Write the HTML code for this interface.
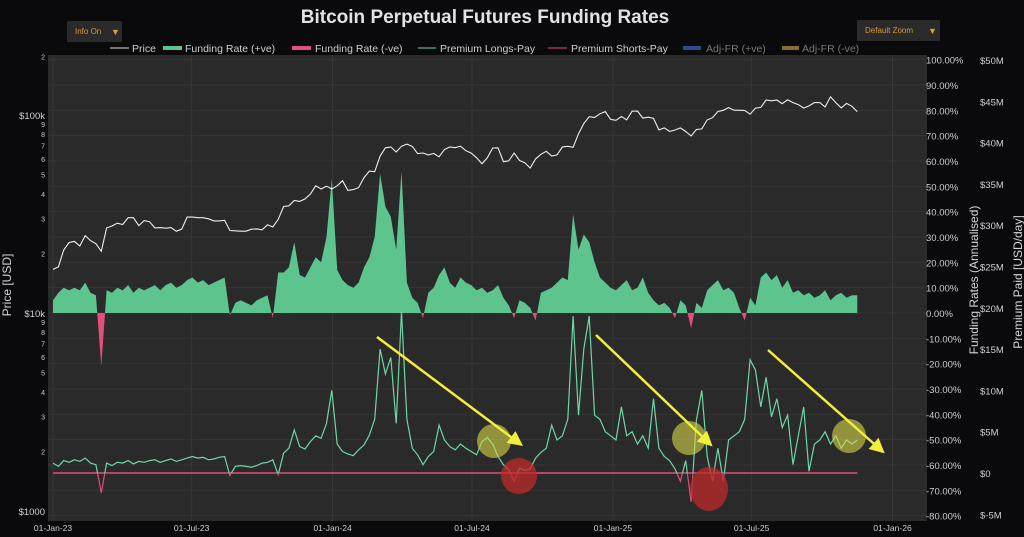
<!DOCTYPE html>
<html><head><meta charset="utf-8">
<style>
html,body{margin:0;padding:0;background:#0a0a0c;width:1024px;height:537px;overflow:hidden}
svg{display:block;font-family:"Liberation Sans",sans-serif}
</style></head>
<body>
<svg id="chart" width="1024" height="537" viewBox="0 0 1024 537">
<rect x="0" y="0" width="1024" height="537" fill="#0a0a0c"/>
<text x="485" y="23" text-anchor="middle" font-size="19" font-weight="bold" fill="#e2e2e2">Bitcoin Perpetual Futures Funding Rates</text>
<g>
<rect x="67" y="21" width="55" height="21" fill="#2a2a2a" rx="1"/>
<text x="75" y="34" font-size="8" fill="#d49a3a">Info On</text>
<text x="111" y="35" font-size="9" fill="#e0a030">▼</text>
</g>
<g>
<rect x="857" y="20" width="83" height="21" fill="#2a2a2a" rx="1"/>
<text x="865" y="33" font-size="8" fill="#d49a3a">Default Zoom</text>
<text x="928" y="34" font-size="9" fill="#e0a030">▼</text>
</g>
<g id="legend" font-size="10.5" fill="#cfcfcf">
<g><line x1="110" y1="48" x2="129" y2="48" stroke="#ddd" stroke-width="1"/><text x="132" y="52">Price</text></g>
<g><rect x="163" y="46" width="19" height="4" fill="#5ec48e"/><text x="185" y="52">Funding Rate (+ve)</text></g>
<g><rect x="292" y="46" width="19" height="4" fill="#e0507a"/><text x="315" y="52">Funding Rate (-ve)</text></g>
<g><line x1="418" y1="48" x2="436" y2="48" stroke="#6fd6a5" stroke-width="1"/><text x="440" y="52">Premium Longs-Pay</text></g>
<g><line x1="548" y1="48" x2="567" y2="48" stroke="#e0507a" stroke-width="1"/><text x="571" y="52">Premium Shorts-Pay</text></g>
<g><rect x="683" y="46" width="18" height="4" fill="#2f4a8a"/><text x="706" y="52" fill="#777">Adj-FR (+ve)</text></g>
<g><rect x="782" y="46" width="17" height="4" fill="#8a6a3a"/><text x="802" y="52" fill="#777">Adj-FR (-ve)</text></g>
</g>
<rect x="48" y="55" width="879" height="466" fill="#2a2a2b"/>
<g id="grid"></g>
<g id="marks"></g>
<g id="axes"></g>
<g>
<defs><marker id="ah" markerWidth="6" markerHeight="6" refX="4" refY="3" orient="auto"><path d="M0,0 L6,3 L0,6 z" fill="#f2ef3a"/></marker></defs>
<circle cx="494" cy="441" r="17" fill="#d8d84a" fill-opacity="0.6"/>
<circle cx="689" cy="438" r="17" fill="#d8d84a" fill-opacity="0.6"/>
<circle cx="849" cy="436" r="17" fill="#d8d84a" fill-opacity="0.6"/>
<circle cx="519" cy="476" r="18" fill="#c02a2a" fill-opacity="0.75"/>
<ellipse cx="709" cy="489" rx="19" ry="22" fill="#c02a2a" fill-opacity="0.75"/>
<line x1="377" y1="337" x2="519" y2="443" stroke="#f2ef3a" stroke-width="2.5" marker-end="url(#ah)"/>
<line x1="596" y1="335" x2="709" y2="443" stroke="#f2ef3a" stroke-width="2.5" marker-end="url(#ah)"/>
<line x1="768" y1="350" x2="881" y2="450" stroke="#f2ef3a" stroke-width="2.5" marker-end="url(#ah)"/>
</g>
</svg>
<script>
// weekly series from 01-Jan-2023
const priceK = [16.6,17.1,20.8,22.7, 23.0,21.8,24.6,23.2, 22.4,20.5,26.9,27.5,28.4, 28.0,30.3,30.3,27.6,29.3, 28.9,26.9,27.0,26.8, 27.0,25.9,26.5,30.5,30.5, 30.3,30.3,29.9,29.2, 29.2,29.4,26.1,26.0,25.9, 25.9,26.5,26.6,26.3, 27.9,27.2,29.7,34.5, 34.8,37.0,36.6,37.7, 39.9,43.9,42.3,43.7,42.3,
43.9,46.6,41.6,42.0, 43.0,48.3,52.1,51.7,62.0, 68.3,69.0,65.0,69.5,71.3, 69.4,63.8,64.3,62.9, 63.9,61.5,66.9,69.0,68.4, 69.6,66.0,64.2,60.8, 56.7,60.8,68.1,68.3, 58.1,58.7,64.2,59.0,57.3, 54.0,60.0,63.3,65.6, 62.1,62.9,69.0,69.5, 68.7,80.4,90.6,98.0, 97.3,101.4,104.0,95.0,94.0,
98.3,94.5,104.5,104.7, 96.5,97.5,96.1,84.1, 86.1,82.6,84.0,86.1,82.5, 78.3,84.5,85.1,94.5, 96.9,104.1,105.6,109.0, 105.7,105.6,105.5,100.9,108.4, 109.2,119.1,117.9,119.0, 114.0,119.3,115.5,112.9,108.3, 111.1,115.5,115.7,109.7, 123.5,115.2,108.6,114.5, 110.6,104.0];
const fundingPct = [5,8,10,9, 10,9,12,8, 7,-21,9,8,10, 9,11,8,10,9, 10,11,9,11, 12,10,11,13,14, 12,13,11,12, 13,14,-1,4,5, 4,3,5,6, 7,-2,16,16, 18,28,15,14, 18,22,20,30,53,
17,13,11,10, 12,18,22,30,55, 42,38,25,56,12, 6,4,-2,8, 10,15,18,12,10, 14,12,11,9, 10,8,9,11, 6,3,-2,5,4, 2,-3,8,9, 10,12,14,13, 39,25,31,28, 20,14,12,10,9,
11,13,9,10, 14,8,5,3, 4,2,-2,5,3, -6,4,2,9, 11,13,9,10, 8,2,-3,6,3, 14,16,13,15, 10,13,8,9,7, 8,6,7,9, 5,7,8,6, 7,7];
const premiumM = [1.2,0.8,1.5,1.3, 1.6,1.4,1.8,1.2, 1.0,-2.4,1.2,0.9,1.3, 1.2,1.5,1.1,1.4,1.3, 1.5,1.6,1.3,1.5, 1.7,1.4,1.6,1.8,2.0, 1.8,1.9,1.6,1.7, 1.9,2.0,-0.3,0.8,0.9, 0.8,0.7,0.9,1.2, 1.3,1.6,-0.2,2.4, 3.0,5.2,3.2,2.9, 3.8,4.5,4.2,6.0,10.0,
3.5,2.6,2.3,2.1, 2.8,3.4,4.6,6.5,15.0, 12.0,14.0,6.0,19.5,6.5, 3.0,2.2,1.0,2.0, 2.6,5.8,4.0,3.2,2.8, 3.5,3.0,2.6,2.2, 3.8,4.3,3.5,2.0, 1.0,0.4,-1.0,0.6,0.3, 0.5,1.8,2.5,3.0, 5.8,4.0,4.5,6.5, 19.0,7.0,15.0,19.0, 7.0,6.5,5.0,4.5,4.0,
8.0,4.5,5.0,3.5, 4.5,3.0,9.0,3.0, 2.0,1.5,0.5,-1.0,1.5, -3.5,6.4,10.0,2.0, -1.0,3.0,-1.0,4.0, 4.5,5.0,6.5,13.7,12.5, 8.0,11.6,6.8,9.0, 5.5,7.0,1.0,4.5,8.0, 0.2,3.5,4.0,5.0, 3.5,4.5,3.0,4.0, 3.5,4.0];
const shortsPayM = premiumM.map(()=>0);
const xTickLabels = ["01-Jan-23","01-Jul-23","01-Jan-24","01-Jul-24","01-Jan-25","01-Jul-25","01-Jan-26"];
const xTickDays = [0,181,365,547,731,912,1096];
const pctTicks = [100,90,80,70,60,50,40,30,20,10,0,-10,-20,-30,-40,-50,-60,-70,-80];
const usdTicks = [50,45,40,35,30,25,20,15,10,5,0,-5];
const priceMajor = [[200000,"2"],[100000,"$100k"],[10000,"$10k"],[1000,"$1000"]];
const priceMinor = [9,8,7,6,5,4,3,2];

const NS="http://www.w3.org/2000/svg";
const X0=53, PXD=0.766;
const xDay = d => X0 + d*PXD;
const xWeek = i => xDay(i*7);
const yPct = p => 313 - p*2.533;
const yUsd = m => 473 - m*8.26;
const yPrice = v => 313 - 198*Math.log10(v/10000);
function mk(tag, attrs, parent){const e=document.createElementNS(NS,tag);for(const k in attrs)e.setAttribute(k,attrs[k]);parent.appendChild(e);return e;}
const grid=document.getElementById('grid'), marks=document.getElementById('marks'), axes=document.getElementById('axes');

// grid
xTickDays.forEach(d=>{const l=mk('line',{x1:xDay(d),x2:xDay(d),y1:55,y2:521,stroke:'#383839','stroke-width':1},grid);

});
pctTicks.forEach(p=>{const l=mk('line',{x1:48,x2:927,y1:yPct(p),y2:yPct(p),stroke:'#343435','stroke-width':1},grid);

});

// clip paths
const defs=mk('defs',{},marks);
const cpA=mk('clipPath',{id:'abovePct'},defs); mk('rect',{x:48,y:55,width:879,height:yPct(0)-55},cpA);
const cpB=mk('clipPath',{id:'belowPct'},defs); mk('rect',{x:48,y:yPct(0),width:879,height:521-yPct(0)},cpB);
const cpC=mk('clipPath',{id:'aboveUsd'},defs); mk('rect',{x:48,y:55,width:879,height:yUsd(0)-55},cpC);
const cpD=mk('clipPath',{id:'belowUsd'},defs); mk('rect',{x:48,y:yUsd(0),width:879,height:521-yUsd(0)},cpD);

// funding area
let fd='M'+xWeek(0)+','+yPct(0);
fundingPct.forEach((v,i)=>{fd+=' L'+xWeek(i).toFixed(1)+','+yPct(v).toFixed(1);});
fd+=' L'+xWeek(fundingPct.length-1)+','+yPct(0)+' Z';
const fPos=mk('path',{d:fd,fill:'#5ec48e','clip-path':'url(#abovePct)'},marks);


const fNeg=mk('path',{d:fd,fill:'#e0507a','clip-path':'url(#belowPct)'},marks);



// shorts pay line
let sd='';
shortsPayM.forEach((v,i)=>{sd+=(i?' L':'M')+xWeek(i).toFixed(1)+','+yUsd(v).toFixed(1);});
const sl=mk('path',{d:sd,fill:'none',stroke:'#e0507a','stroke-width':1.5},marks);



// premium longs pay line
let pd='';
premiumM.forEach((v,i)=>{pd+=(i?' L':'M')+xWeek(i).toFixed(1)+','+yUsd(v).toFixed(1);});
const pl=mk('path',{d:pd,fill:'none',stroke:'#6fd6a5','stroke-width':1.2,'clip-path':'url(#aboveUsd)'},marks);


const pn=mk('path',{d:pd,fill:'none',stroke:'#e0507a','stroke-width':1.2,'clip-path':'url(#belowUsd)'},marks);



// price line
let prd='';
priceK.forEach((v,i)=>{prd+=(i?' L':'M')+xWeek(i).toFixed(1)+','+yPrice(v*1000).toFixed(1);});
const pr=mk('path',{d:prd,fill:'none',stroke:'#eeeeee','stroke-width':1.1},marks);



// axes labels
xTickLabels.forEach((t,i)=>{const e=mk('text',{x:xDay(xTickDays[i]),y:531,'text-anchor':'middle','font-size':8.5,fill:'#cfcfcf'},axes);e.textContent=t;

});
pctTicks.forEach(p=>{const e=mk('text',{x:926,y:yPct(p)+4,'font-size':9.5,fill:'#cfcfcf'},axes);e.textContent=p.toFixed(2)+'%';

});
usdTicks.forEach(m=>{const e=mk('text',{x:980,y:yUsd(m)+4,'font-size':9.5,fill:'#cfcfcf'},axes);e.textContent=(m<0?'$-'+(-m):'$'+m)+(m===0?'':'M');

});
priceMajor.forEach(([v,t])=>{const e=mk('text',{x:45,y:yPrice(v)+4,'text-anchor':'end','font-size':t.length>1?9.5:7,fill:'#cfcfcf'},axes);e.textContent=t;

});
[10000,1000].forEach(base=>{priceMinor.forEach(m=>{const e=mk('text',{x:45,y:yPrice(base*m)+3,'text-anchor':'end','font-size':7,fill:'#cfcfcf'},axes);e.textContent=m;

});});
const t1=mk('text',{x:0,y:0,'font-size':12,fill:'#d5d5d5','text-anchor':'middle',transform:'translate(11,285) rotate(-90)'},axes);t1.textContent='Price [USD]';


const t2=mk('text',{x:0,y:0,'font-size':12,fill:'#d5d5d5','text-anchor':'middle',transform:'translate(978,280) rotate(-90)'},axes);t2.textContent='Funding Rates (Annualised)';


const t3=mk('text',{x:0,y:0,'font-size':12,fill:'#d5d5d5','text-anchor':'middle',transform:'translate(1022,282) rotate(-90)'},axes);t3.textContent='Premium Paid [USD/day]';


</script>
</body></html>
